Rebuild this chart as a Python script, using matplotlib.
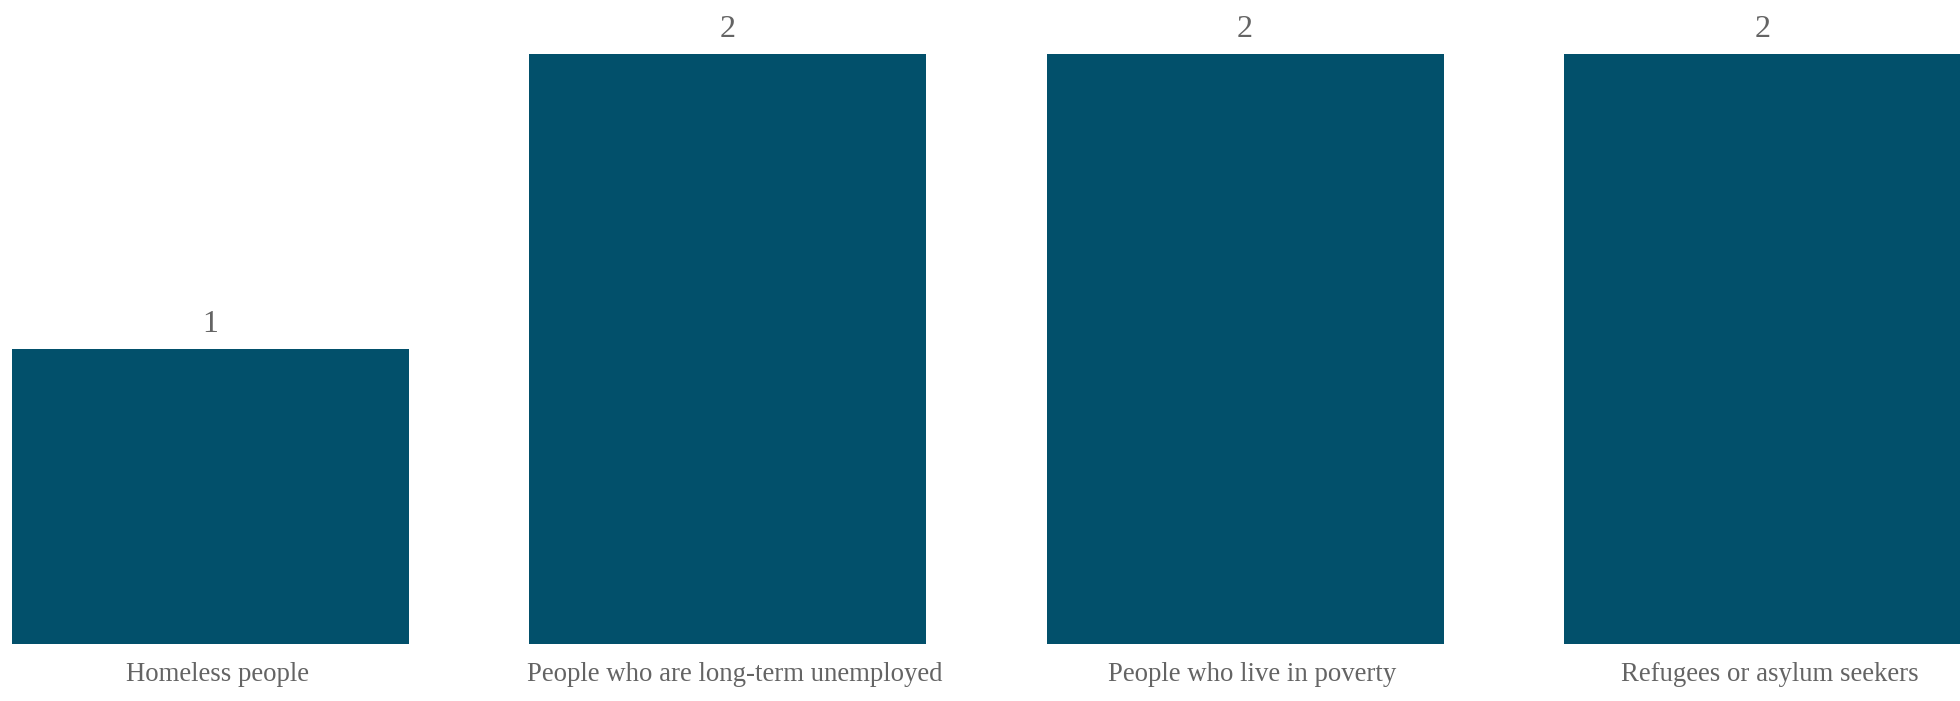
import matplotlib.pyplot as plt
import matplotlib.transforms as mtransforms

groups = ["Homeless people",
          "People who are long-term unemployed",
          "People who live in poverty",
          "Refugees or asylum seekers"]
counts = [1, 2, 2, 2]

bar_color = "#02506b"
text_color = "#646464"

plt.rcParams['font.family'] = ['Liberation Serif', 'DejaVu Serif']

fig = plt.figure(figsize=(19.6, 7.01), dpi=100)
ax = fig.add_axes([0, 57 / 701, 1, 644 / 701])

x = range(len(groups))
bars = ax.bar(x, counts, width=0.7675, color=bar_color)

# value labels on top of each bar
for rect, v in zip(bars, counts):
    ax.annotate(str(v), (rect.get_x() + rect.get_width() / 2, v),
                xytext=(0, 7), textcoords="offset points",
                ha="center", va="bottom", fontsize=23, color=text_color)

ax.set_xlim(-0.407, 3.382)
ax.set_ylim(0, 2.183)
ax.set_xticks(list(x))
ax.set_xticklabels(groups, fontsize=19.3, color=text_color)
ax.tick_params(axis="x", length=0, pad=13)
ax.set_yticks([])
for s in ax.spines.values():
    s.set_visible(False)

# nudge category labels slightly to the right
shift = mtransforms.ScaledTranslation(7 / 100, 0, fig.dpi_scale_trans)
for lbl in ax.get_xticklabels():
    lbl.set_transform(lbl.get_transform() + shift)

fig.savefig("out.png", dpi=100)
